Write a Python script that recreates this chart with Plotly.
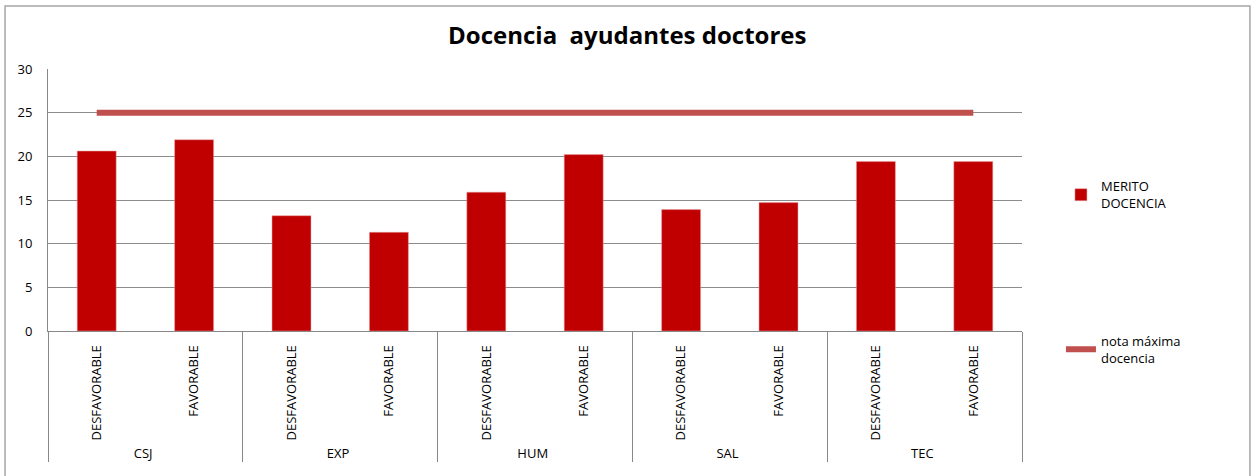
import plotly.graph_objects as go

# datos
grupos = ["CSJ", "CSJ", "EXP", "EXP", "HUM", "HUM", "SAL", "SAL", "TEC", "TEC"]
informe = ["DESFAVORABLE", "FAVORABLE"] * 5
merito_docencia = [20.6, 21.9, 13.2, 11.3, 15.9, 20.2, 13.9, 14.7, 19.4, 19.4]
nota_maxima = [25] * 10

FUENTE = "Open Sans, sans-serif"

eje_x = [grupos, informe]

fig = go.Figure()

fig.add_trace(go.Bar(
    x=eje_x,
    y=merito_docencia,
    name="MERITO<br>DOCENCIA",
    marker=dict(color="#C00000", line=dict(color="#E8A0A0", width=0.5)),
    legend="legend",
))

fig.add_trace(go.Scatter(
    x=eje_x,
    y=nota_maxima,
    mode="lines",
    name="nota máxima<br>docencia",
    line=dict(color="#C0504D", width=6),
    legend="legend2",
))

fig.update_layout(
    width=1257, height=476,
    paper_bgcolor="white",
    plot_bgcolor="white",
    margin=dict(l=48, r=235, t=69, b=145),
    font=dict(family=FUENTE, size=12, color="#000000"),
    title=dict(
        text="<b>Docencia  ayudantes doctores</b>",
        x=0.499, xanchor="center", y=0.925, yanchor="middle",
        font=dict(family=FUENTE, size=24, color="#000000"),
    ),
    bargap=0.6,
    showlegend=True,
    legend=dict(x=1.04, y=0.52, xanchor="left", yanchor="middle",
                font=dict(size=13), bgcolor="rgba(0,0,0,0)",
                itemwidth=30),
    legend2=dict(x=1.04, y=-0.07, xanchor="left", yanchor="middle",
                 font=dict(size=13), bgcolor="rgba(0,0,0,0)",
                 itemwidth=30),
    # marco exterior del gráfico
    shapes=[dict(type="rect", xref="paper", yref="paper",
                 x0=-0.0441, x1=1.234, y0=-0.6, y1=1.2405,
                 line=dict(color="#A6A6A6", width=1.5), layer="below")],
)

fig.update_xaxes(
    type="multicategory", automargin=False,
    showline=True, linecolor="#888888", linewidth=1,
    ticks="", tickangle=-90, ticklabelstandoff=8,
    tickfont=dict(size=13),
    showdividers=True, dividercolor="#888888", dividerwidth=1,
    showgrid=False,
)
fig.update_yaxes(
    range=[0, 30], dtick=5,
    showgrid=True, gridcolor="#8C8C8C", gridwidth=1,
    showline=True, linecolor="#888888", linewidth=1,
    zeroline=False, ticks="", ticklabelstandoff=12,
    tickfont=dict(size=13),
)

fig.write_html("out.html", config={"displayModeBar": False},
               post_script="document.body.style.margin='0';")
